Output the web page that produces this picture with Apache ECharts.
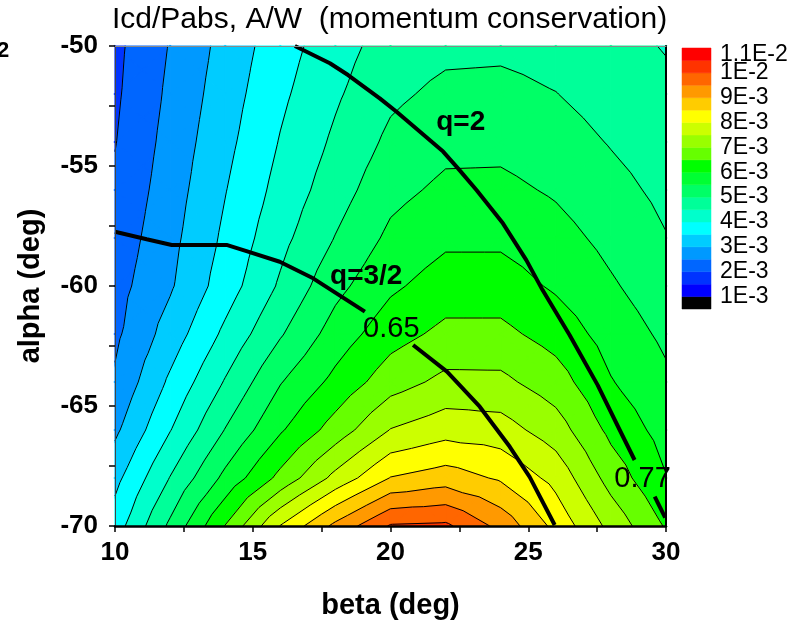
<!DOCTYPE html>
<html><head><meta charset="utf-8">
<script src="https://cdn.jsdelivr.net/npm/echarts@6/dist/echarts.min.js"></script>
<style>html,body{margin:0;padding:0;background:#fff}#c{width:800px;height:627px}</style>
</head><body><div id="c"></div>
<script>
// ---- data ----
const betaValues = [10, 12, 14, 16, 18, 20, 22, 24, 26, 28, 30];
const alphaValues = [-50, -52, -54, -56, -58, -60, -62, -64, -66, -68, -70];
// Icd/Pabs in units of 1E-3 A/W, one row per alpha value, columns follow betaValues
const zAlpha50 = [1.88, 2.53, 3.17, 3.78, 4.29, 4.72, 4.88, 4.90, 4.82, 4.66, 4.47];
const zAlpha52 = [1.92, 2.60, 3.26, 3.90, 4.43, 4.90, 5.12, 5.14, 5.01, 4.80, 4.61];
const zAlpha54 = [1.98, 2.68, 3.36, 4.03, 4.59, 5.11, 5.36, 5.37, 5.22, 4.97, 4.74];
const zAlpha56 = [2.08, 2.76, 3.48, 4.17, 4.77, 5.35, 5.61, 5.62, 5.44, 5.16, 4.88];
const zAlpha58 = [2.19, 2.85, 3.60, 4.35, 5.02, 5.61, 5.90, 5.90, 5.68, 5.36, 5.02];
const zAlpha60 = [2.31, 2.94, 3.75, 4.57, 5.35, 5.91, 6.24, 6.24, 5.93, 5.56, 5.21];
const zAlpha62 = [2.40, 3.22, 4.11, 4.95, 5.72, 6.30, 6.63, 6.63, 6.30, 5.79, 5.40];
const zAlpha64 = [2.57, 3.59, 4.54, 5.47, 6.14, 6.78, 7.13, 7.12, 6.73, 6.03, 5.59];
const zAlpha66 = [2.90, 3.98, 5.02, 5.94, 6.72, 7.52, 7.80, 7.72, 7.24, 6.37, 5.80];
const zAlpha68 = [3.35, 4.52, 5.63, 6.64, 7.65, 8.52, 8.75, 8.43, 7.84, 6.80, 6.02];
const zAlpha70 = [3.75, 5.10, 6.52, 8.02, 9.13, 10.05, 10.10, 9.35, 8.35, 7.35, 6.45];
const zGrid = [zAlpha50, zAlpha52, zAlpha54, zAlpha56, zAlpha58, zAlpha60, zAlpha62, zAlpha64, zAlpha66, zAlpha68, zAlpha70];

const levelValues = [1, 1.5, 2, 2.5, 3, 3.5, 4, 4.5, 5, 5.5, 6, 6.5, 7, 7.5, 8, 8.5, 9, 9.5, 10, 10.5, 11];
const bandColors = ['#000000', '#0000FF', '#0033FF', '#0066FF', '#0099FF', '#00CCFF', '#00FFFF', '#00FFCC',
  '#00FF99', '#00FF66', '#00FF33', '#00FF00', '#66FF00', '#99FF00', '#CCFF00', '#FFFF00', '#FFCC00',
  '#FF9900', '#FF6600', '#FF3300', '#FF0000', '#FF0000'];
const colorbarLabelValues = [1, 2, 3, 4, 5, 6, 7, 8, 9, 10, 11];
const colorbarLabels = ['1E-3', '2E-3', '3E-3', '4E-3', '5E-3', '6E-3', '7E-3', '8E-3', '9E-3', '1E-2', '1.1E-2'];

const q2Line = [[16.53, -50.0], [17.8, -50.72], [18.46, -51.21], [19.61, -52.18], [20.22, -52.74], [21.91, -54.4],
  [22.45, -55.1], [23.12, -56.0], [24.08, -57.39], [24.93, -58.92], [25.52, -60.17], [26.5, -62.04],
  [27.52, -64.13], [28.32, -66.0], [28.86, -67.25]];
const q2LineTail = [[29.59, -68.78], [29.97, -69.65]];
const q32LineA = [[10.0, -57.74], [11.15, -58.05], [12.06, -58.29], [14.05, -58.29], [14.83, -58.57],
  [15.98, -58.99], [17.19, -59.68], [19.07, -61.07]];
const q32LineB = [[20.82, -62.46], [22.05, -63.57], [23.24, -65.03], [24.33, -66.7], [25.05, -67.95], [25.96, -69.96]];
const lineLabelTexts = ['q=2', 'q=3/2', '0.65', '0.77'];
const lineLabelPos = [[22.55, -53.17], [19.12, -59.6], [20.03, -61.8], [29.15, -68.05]];
const lineLabelBold = [true, true, false, false];

// ---- contour geometry from the grid (triangulated cells) ----
const tris = [];
for (let i = 0; i < alphaValues.length - 1; i++) {
  for (let j = 0; j < betaValues.length - 1; j++) {
    const a = [betaValues[j], alphaValues[i], zGrid[i][j]];
    const b = [betaValues[j + 1], alphaValues[i], zGrid[i][j + 1]];
    const c = [betaValues[j + 1], alphaValues[i + 1], zGrid[i + 1][j + 1]];
    const d = [betaValues[j], alphaValues[i + 1], zGrid[i + 1][j]];
    const m = [(a[0] + b[0]) / 2, (a[1] + d[1]) / 2, (a[2] + b[2] + c[2] + d[2]) / 4];
    tris.push([a, b, m], [b, c, m], [c, d, m], [d, a, m]);
  }
}
function clipPoly(poly, lev, keepAbove) {
  const out = [];
  for (let k = 0; k < poly.length; k++) {
    const P = poly[k], Q = poly[(k + 1) % poly.length];
    const pin = keepAbove ? P[2] >= lev : P[2] <= lev;
    const qin = keepAbove ? Q[2] >= lev : Q[2] <= lev;
    if (pin) out.push(P);
    if (pin !== qin) {
      const t = (lev - P[2]) / (Q[2] - P[2]);
      out.push([P[0] + t * (Q[0] - P[0]), P[1] + t * (Q[1] - P[1]), lev]);
    }
  }
  return out;
}
const fillPolys = [];
tris.forEach(function (tri) {
  const zs = tri.map(p => p[2]);
  const zmin = Math.min.apply(null, zs), zmax = Math.max.apply(null, zs);
  for (let k = 0; k < bandColors.length; k++) {
    const lo = k === 0 ? -Infinity : levelValues[k - 1];
    const hi = k >= levelValues.length ? Infinity : levelValues[k];
    if (zmax < lo || zmin > hi) continue;
    let poly = tri;
    if (isFinite(lo)) poly = clipPoly(poly, lo, true);
    if (poly.length >= 3 && isFinite(hi)) poly = clipPoly(poly, hi, false);
    if (poly.length >= 3) fillPolys.push({ band: k, pts: poly.map(p => [p[0], p[1]]) });
  }
});
const contourSegs = [];
tris.forEach(function (tri) {
  levelValues.forEach(function (L) {
    const pts = [];
    for (let k = 0; k < 3; k++) {
      const P = tri[k], Q = tri[(k + 1) % 3];
      if ((P[2] < L) !== (Q[2] < L)) {
        const t = (L - P[2]) / (Q[2] - P[2]);
        pts.push([P[0] + t * (Q[0] - P[0]), P[1] + t * (Q[1] - P[1])]);
      }
    }
    if (pts.length === 2) contourSegs.push(pts);
  });
});

const FONT = 'Liberation Sans, Arial, Helvetica, sans-serif';
const chart = echarts.init(document.getElementById('c'), null, { renderer: 'canvas' });
const option = {
  animation: false,
  backgroundColor: '#fff',
  textStyle: { fontFamily: FONT, color: '#000' },
  title: {
    text: 'Icd/Pabs, A/W  (momentum conservation)', left: 112, top: 5, padding: 0,
    textStyle: { fontSize: 30, fontWeight: 'normal', color: '#000', fontFamily: FONT }
  },
  graphic: [{ type: 'text', x: -3, y: 40, style: { text: '2', font: 'bold 22px ' + FONT, fill: '#000' } }],
  grid: [
    { left: 115, top: 46, width: 551, height: 480 },
    { left: 682, top: 48, width: 29, height: 261 }
  ],
  xAxis: [
    {
      gridIndex: 0, type: 'value', min: 10, max: 30, interval: 5, position: 'bottom', z: 10,
      axisLine: { onZero: false, lineStyle: { color: '#000', width: 2.5 } },
      axisTick: { length: 6, lineStyle: { color: '#000', width: 1.5 } },
      minorTick: { show: true, splitNumber: 2, length: 6, lineStyle: { color: '#000', width: 1.5 } },
      splitLine: { show: false },
      axisLabel: { fontSize: 26, fontWeight: 'bold', color: '#000', margin: 14, fontFamily: FONT },
      name: 'beta (deg)', nameLocation: 'middle', nameGap: 65,
      nameTextStyle: { fontSize: 29, fontWeight: 'bold', color: '#000', fontFamily: FONT }
    },
    {
      gridIndex: 0, type: 'value', min: 10, max: 30, position: 'top', z: 10,
      axisLine: { onZero: false, lineStyle: { color: '#888', width: 1 } },
      axisTick: { show: false }, axisLabel: { show: false }, splitLine: { show: false }
    },
    { gridIndex: 1, type: 'value', min: 0, max: 1, show: false }
  ],
  yAxis: [
    {
      gridIndex: 0, type: 'value', min: -70, max: -50, interval: 5, z: 10,
      axisLine: { onZero: false, lineStyle: { color: '#444', width: 1 } },
      axisTick: { length: 6, lineStyle: { color: '#000', width: 1.5 } },
      minorTick: { show: true, splitNumber: 2, length: 6, lineStyle: { color: '#000', width: 1.5 } },
      splitLine: { show: false },
      axisLabel: { fontSize: 26, fontWeight: 'bold', color: '#000', margin: 17, fontFamily: FONT },
      name: 'alpha (deg)', nameLocation: 'middle', nameGap: 70,
      nameTextStyle: { fontSize: 29, fontWeight: 'bold', color: '#000', fontFamily: FONT }
    },
    {
      gridIndex: 0, type: 'value', min: -70, max: -50, position: 'right', z: 10,
      axisLine: { onZero: false, lineStyle: { color: '#000', width: 2 } },
      axisTick: { show: false }, axisLabel: { show: false }, splitLine: { show: false }
    },
    {
      gridIndex: 1, type: 'value', min: 0.5, max: 11, interval: 0.5, position: 'right',
      axisLine: { show: false }, axisTick: { show: false }, splitLine: { show: false },
      axisLabel: {
        margin: 9, fontSize: 23, color: '#000', fontFamily: FONT,
        formatter: function (v) {
          for (let i = 0; i < colorbarLabelValues.length; i++) {
            if (Math.abs(colorbarLabelValues[i] - v) < 1e-6) {
              return i === colorbarLabelValues.length - 1 ? '{top|' + colorbarLabels[i] + '}' : colorbarLabels[i];
            }
          }
          return '';
        },
        rich: { top: { fontSize: 23, color: '#000', fontFamily: FONT, padding: [14, 0, 0, 0] } }
      }
    }
  ],
  series: [
    {
      type: 'custom', coordinateSystem: 'cartesian2d', xAxisIndex: 0, yAxisIndex: 0, z: 1, silent: true,
      data: fillPolys.map((p, i) => [p.pts[0][0], p.pts[0][1], i]),
      encode: { x: 0, y: 1 },
      renderItem: function (params, api) {
        const p = fillPolys[params.dataIndex];
        const col = bandColors[p.band];
        return { type: 'polygon', shape: { points: p.pts.map(q => api.coord(q)) },
          style: { fill: col, stroke: col, lineWidth: 1.2 } };
      }
    },
    {
      type: 'custom', coordinateSystem: 'cartesian2d', xAxisIndex: 0, yAxisIndex: 0, z: 2, silent: true,
      data: contourSegs.map((s, i) => [s[0][0], s[0][1], i]),
      encode: { x: 0, y: 1 },
      renderItem: function (params, api) {
        const s = contourSegs[params.dataIndex];
        const p1 = api.coord(s[0]), p2 = api.coord(s[1]);
        return { type: 'line', shape: { x1: p1[0], y1: p1[1], x2: p2[0], y2: p2[1] },
          style: { stroke: '#000', lineWidth: 1 } };
      }
    },
    { type: 'line', xAxisIndex: 0, yAxisIndex: 0, data: q2Line, showSymbol: false, silent: true, z: 3,
      lineStyle: { color: '#000', width: 4 } },
    { type: 'line', xAxisIndex: 0, yAxisIndex: 0, data: q2LineTail, showSymbol: false, silent: true, z: 3,
      lineStyle: { color: '#000', width: 4 } },
    { type: 'line', xAxisIndex: 0, yAxisIndex: 0, data: q32LineA, showSymbol: false, silent: true, z: 3,
      lineStyle: { color: '#000', width: 4 } },
    { type: 'line', xAxisIndex: 0, yAxisIndex: 0, data: q32LineB, showSymbol: false, silent: true, z: 3,
      lineStyle: { color: '#000', width: 4 } },
    {
      type: 'custom', coordinateSystem: 'cartesian2d', xAxisIndex: 0, yAxisIndex: 0, z: 4, silent: true,
      data: lineLabelPos.map((p, i) => [p[0], p[1], i]),
      encode: { x: 0, y: 1 },
      renderItem: function (params, api) {
        const i = params.dataIndex;
        const c = api.coord([api.value(0), api.value(1)]);
        return { type: 'text', x: c[0], y: c[1],
          style: { text: lineLabelTexts[i], fill: '#000', align: 'center', verticalAlign: 'middle',
            font: (lineLabelBold[i] ? 'bold 28px ' : '29px ') + FONT } };
      }
    },
    {
      type: 'custom', coordinateSystem: 'cartesian2d', xAxisIndex: 2, yAxisIndex: 2, silent: true,
      data: bandColors.slice(0, 21).map((c, k) => [k === 0 ? 0.5 : levelValues[k - 1], levelValues[k], k]),
      encode: { x: -1, y: [0, 1] },
      renderItem: function (params, api) {
        const lo = api.value(0), hi = api.value(1);
        const p1 = api.coord([0, hi]), p2 = api.coord([1, lo]);
        return { type: 'rect', shape: { x: p1[0], y: p1[1], width: p2[0] - p1[0], height: p2[1] - p1[1] },
          style: { fill: bandColors[params.dataIndex], stroke: bandColors[params.dataIndex], lineWidth: 0.5 } };
      }
    }
  ]
};
chart.setOption(option);
</script>
</body></html>
